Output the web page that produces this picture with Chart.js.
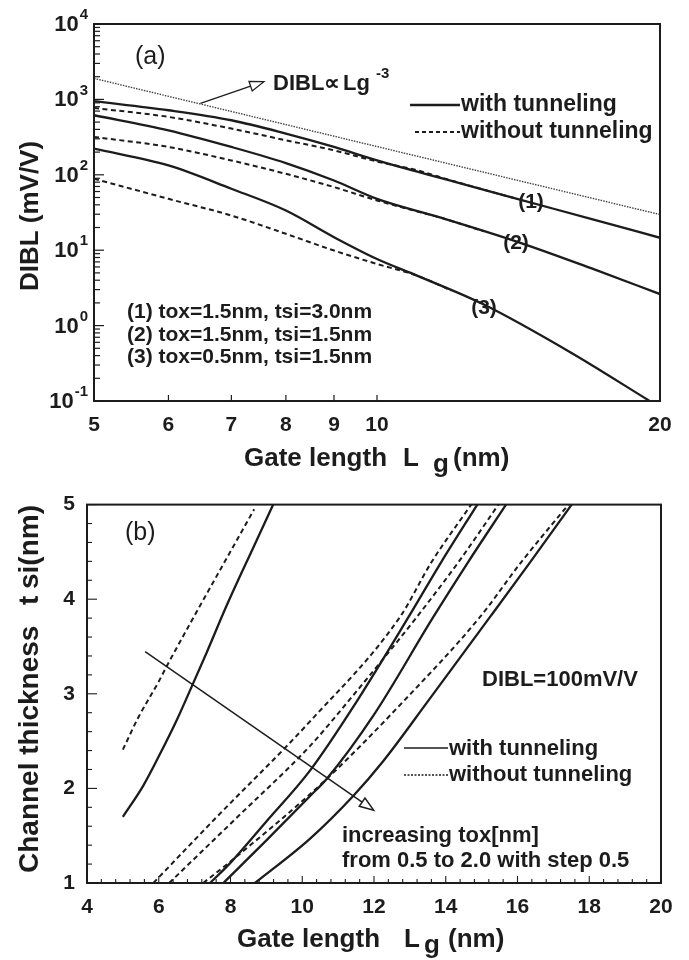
<!DOCTYPE html>
<html lang="en">
<head>
<meta charset="UTF-8">
<title>DIBL and channel thickness vs gate length</title>
<script src="https://cdn.jsdelivr.net/npm/chart.js"></script>
<style>
  * { margin: 0; padding: 0; box-sizing: border-box; }
  body { width: 689px; height: 960px; background: #fff; overflow: hidden; }
  .panel { position: absolute; left: 0; width: 689px; height: 480px; }
  #panelA { top: 0; }
  #panelB { top: 480px; }
</style>
</head>
<body>
<div class="panel" id="panelA"><canvas id="chartA" width="689" height="480"></canvas></div>
<div class="panel" id="panelB"><canvas id="chartB" width="689" height="480"></canvas></div>
<script>
// ---------- panel (a): DIBL vs gate length ----------
const lgTicksA = [5, 6, 7, 8, 9, 10, 20];
const diblDecades = [0.1, 1, 10, 100, 1000, 10000];

// DIBL ~ Lg^-3 guide line
const lgRef = [5, 10, 20];
const diblRef = [1900, 237, 29.7];

// (1) tox=1.5nm, tsi=3.0nm
const lg1With = [5, 6, 7, 8, 9, 10, 12, 14, 17, 20];
const dibl1With = [950, 718, 529, 352, 234, 155, 83, 49, 25.5, 14.6];
const lg1Without = [5, 6, 7, 8, 9, 10, 11, 12, 14];
const dibl1Without = [770, 586, 410, 287, 211, 150, 116, 84, 49];

// (2) tox=1.5nm, tsi=1.5nm
const lg2With = [5, 6, 7, 8, 9, 10, 11.64, 14.13, 17, 20];
const dibl2With = [617, 389, 234, 143, 84, 48, 27.4, 12.8, 5.6, 2.62];
const lg2Without = [5, 6, 7, 8, 9, 10, 11, 11.64, 13];
const dibl2Without = [318, 234, 155, 103, 68.7, 45.7, 33, 27.4, 17.8];

// (3) tox=0.5nm, tsi=1.5nm
const lg3With = [5, 6, 7, 8, 9, 10, 11.03, 12.96, 16.07, 19.5];
const dibl3With = [222, 133, 65.3, 33.6, 14.9, 7.65, 4.6, 1.93, 0.44, 0.1];
const lg3Without = [5, 6, 7, 8, 9, 10, 11.03, 12];
const dibl3Without = [88.7, 48, 28.8, 16.5, 9.9, 6.56, 4.6, 2.92];

// ---------- panel (b): tsi vs gate length at DIBL = 100 mV/V ----------
const lgTicksB = [4, 6, 8, 10, 12, 14, 16, 18, 20];
const tsiTicksB = [1, 2, 3, 4, 5];

const lg05Without = [5, 5.43, 6.0, 6.22, 6.87, 7.8, 8.66];
const tsi05Without = [2.41, 2.75, 3.13, 3.29, 3.74, 4.37, 4.95];
const lg05With = [5, 5.57, 6.03, 6.5, 6.9, 7.34, 7.89, 8.64, 9.19];
const tsi05With = [1.70, 2.03, 2.36, 2.72, 3.06, 3.44, 3.93, 4.55, 5.0];

const lg10Without = [5.85, 7.52, 10.22, 12.72, 13.6, 14.71];
const tsi10Without = [1, 1.66, 2.71, 3.81, 4.39, 5];
const lg10With = [7.43, 7.99, 9.0, 10.22, 11.52, 12.96, 13.87, 14.88];
const tsi10With = [1, 1.21, 1.65, 2.19, 2.92, 3.81, 4.39, 5];

const lg15Without = [6.29, 8.2, 10.22, 11.28, 13.19, 14.35, 15.47];
const tsi15Without = [1, 1.7, 2.45, 2.92, 3.81, 4.39, 5];
const lg15With = [7.80, 9.0, 10.22, 10.68, 12.0, 13.65, 14.62, 15.68];
const tsi15With = [1, 1.45, 1.92, 2.10, 2.78, 3.81, 4.39, 5];

const lg20Without = [7.24, 8.17, 10.68, 12.82, 14.95, 16.1, 17.42];
const tsi20Without = [1, 1.28, 2.10, 2.92, 3.81, 4.39, 5];
const lg20With = [8.68, 10.22, 11.42, 12.26, 13.5, 15.23, 16.35, 17.51];
const tsi20With = [1, 1.47, 1.92, 2.29, 2.92, 3.81, 4.39, 5];

const FONT = "'Liberation Sans', Arial, sans-serif";
const INK = '#1c1c1c';

function pts(xs, ys) {
  return xs.map((x, i) => ({ x: x, y: ys[i] }));
}

function curve(xs, ys, style) {
  const ds = {
    data: pts(xs, ys),
    borderColor: INK,
    borderWidth: 2.3,
    borderDash: [],
    pointRadius: 0,
    cubicInterpolationMode: 'monotone',
    fill: false
  };
  if (style === 'dash') { ds.borderWidth = 2; ds.borderDash = [5, 3.5]; }
  if (style === 'dot') { ds.borderWidth = 1.4; ds.borderColor = '#444'; ds.borderDash = [1.5, 1.2]; }
  return ds;
}

function font(size, bold) {
  return (bold ? 'bold ' : '') + size + 'px ' + FONT;
}

function text(ctx, s, x, y, f, align) {
  ctx.font = f;
  ctx.textAlign = align || 'left';
  ctx.textBaseline = 'middle';
  ctx.fillStyle = INK;
  ctx.fillText(s, x, y);
  return ctx.measureText(s).width;
}

function arrow(ctx, x1, y1, x2, y2) {
  const ang = Math.atan2(y2 - y1, x2 - x1);
  const head = 14, half = 5;
  const bx = x2 - head * Math.cos(ang), by = y2 - head * Math.sin(ang);
  ctx.beginPath();
  ctx.moveTo(x1, y1);
  ctx.lineTo(bx, by);
  ctx.stroke();
  const px = Math.sin(ang) * half, py = -Math.cos(ang) * half;
  ctx.beginPath();
  ctx.moveTo(x2, y2);
  ctx.lineTo(bx + px, by + py);
  ctx.lineTo(bx - px, by - py);
  ctx.closePath();
  ctx.fillStyle = '#fff';
  ctx.fill();
  ctx.stroke();
}

function vline(ctx, x, y1, y2) {
  ctx.beginPath(); ctx.moveTo(x, y1); ctx.lineTo(x, y2); ctx.stroke();
}
function hline(ctx, x1, x2, y) {
  ctx.beginPath(); ctx.moveTo(x1, y); ctx.lineTo(x2, y); ctx.stroke();
}

// Gate length axis title with the lowered "g"; offs = offsets of L, g, (nm)
function gateTitle(ctx, x, y, offs) {
  text(ctx, 'Gate length', x, y, font(26, true));
  text(ctx, 'L', x + offs[0], y, font(26, true));
  text(ctx, 'g', x + offs[1], y + 6, font(26, true));
  text(ctx, '(nm)', x + offs[2], y, font(26, true));
}

const decorA = {
  id: 'decorA',
  afterDatasetsDraw(chart) {
    const { ctx, chartArea: a, scales: { x, y } } = chart;
    ctx.save();
    ctx.strokeStyle = INK;
    ctx.lineWidth = 2;
    ctx.strokeRect(a.left, a.top, a.right - a.left, a.bottom - a.top);

    // inward ticks
    ctx.lineWidth = 1.2;
    diblDecades.forEach((d, i) => {
      hline(ctx, a.left, a.left + 10, y.getPixelForValue(d));
      if (i < diblDecades.length - 1) {
        for (let k = 2; k <= 9; k++) hline(ctx, a.left, a.left + 6, y.getPixelForValue(k * d));
      }
    });
    lgTicksA.forEach(v => vline(ctx, x.getPixelForValue(v), a.bottom, a.bottom - 6));

    // y tick labels 10^n
    diblDecades.forEach(d => {
      const e = Math.round(Math.log10(d));
      const py = y.getPixelForValue(d);
      ctx.font = font(15, true);
      const ew = ctx.measureText(String(e)).width;
      text(ctx, String(e), a.left - 6, py - 9, font(15, true), 'right');
      text(ctx, '10', a.left - 7 - ew, py + 1, font(22, true), 'right');
    });

    // guide arrow and label
    ctx.lineWidth = 1.3;
    arrow(ctx, x.getPixelForValue(6.49), y.getPixelForValue(888),
          x.getPixelForValue(7.58), y.getPixelForValue(1718));
    text(ctx, 'DIBL\u221D', 273, 84, font(22, true));
    text(ctx, 'Lg', 343, 84, font(22, true));
    text(ctx, '-3', 376, 74, font(15, true));

    text(ctx, '(a)', 135, 57, font(25, false));

    // legend
    ctx.lineWidth = 2.3;
    hline(ctx, 410, 460, 105);
    ctx.setLineDash([4, 3]);
    ctx.lineWidth = 2;
    hline(ctx, 415, 460, 132);
    ctx.setLineDash([]);
    text(ctx, 'with tunneling', 461, 105, font(23, true));
    text(ctx, 'without tunneling', 461, 132, font(23, true));

    // curve labels
    text(ctx, '(1)', 531, 202, font(21, true), 'center');
    text(ctx, '(2)', 516, 243, font(21, true), 'center');
    text(ctx, '(3)', 484, 308, font(21, true), 'center');

    text(ctx, '(1) tox=1.5nm, tsi=3.0nm', 127, 312, font(21, true));
    text(ctx, '(2) tox=1.5nm, tsi=1.5nm', 127, 335, font(21, true));
    text(ctx, '(3) tox=0.5nm, tsi=1.5nm', 127, 357, font(21, true));

    // axis titles
    gateTitle(ctx, 244, 459, [159, 189, 209]);
    ctx.save();
    ctx.translate(31, 216);
    ctx.rotate(-Math.PI / 2);
    text(ctx, 'DIBL (mV/V)', 0, 0, font(26, true), 'center');
    ctx.restore();
    ctx.restore();
  }
};

const decorB = {
  id: 'decorB',
  afterDatasetsDraw(chart) {
    const { ctx, chartArea: a, scales: { x, y } } = chart;
    ctx.save();
    ctx.strokeStyle = INK;
    ctx.lineWidth = 2;
    ctx.strokeRect(a.left, a.top, a.right - a.left, a.bottom - a.top);

    // inward ticks: majors on labels, minors every 0.4 (x) and 0.2 (y)
    ctx.lineWidth = 1.1;
    for (let i = 0; i <= 40; i++) {
      const v = 4 + i * 0.4;
      vline(ctx, x.getPixelForValue(v), a.bottom, a.bottom - (i % 5 === 0 ? 7 : 4));
    }
    for (let i = 0; i <= 20; i++) {
      const v = 1 + i * 0.2;
      hline(ctx, a.left, a.left + (i % 5 === 0 ? 10 : 5), y.getPixelForValue(v));
    }

    // tox arrow
    ctx.lineWidth = 1.5;
    arrow(ctx, x.getPixelForValue(5.62), y.getPixelForValue(3.446),
          x.getPixelForValue(11.99), y.getPixelForValue(1.77));

    text(ctx, '(b)', 125, 53, font(25, false));
    text(ctx, 'DIBL=100mV/V', 482, 200, font(22, true));

    ctx.lineWidth = 1.6;
    hline(ctx, 404, 448, 268);
    ctx.setLineDash([2, 1.5]);
    hline(ctx, 404, 448, 295);
    ctx.setLineDash([]);
    text(ctx, 'with tunneling', 449, 269, font(22, true));
    text(ctx, 'without tunneling', 449, 295, font(22, true));

    text(ctx, 'increasing tox[nm]', 342, 356, font(22, true));
    text(ctx, 'from 0.5 to 2.0 with step 0.5', 342, 381, font(22, true));

    gateTitle(ctx, 237, 460, [167, 187, 211]);
    ctx.save();
    ctx.translate(30, 393);
    ctx.rotate(-Math.PI / 2);
    text(ctx, 'Channel thickness', 0, 0, font(28, true));
    text(ctx, 't', 268, 0, font(28, true));
    text(ctx, 'si(nm)', 284, 0, font(28, true));
    ctx.restore();
    ctx.restore();
  }
};

const tickFont = { family: FONT, size: 21, weight: 'bold' };
const baseOpts = {
  responsive: false,
  animation: false,
  devicePixelRatio: 1,
  events: [],
  plugins: { legend: { display: false }, tooltip: { enabled: false }, title: { display: false } }
};

new Chart(document.getElementById('chartA'), {
  type: 'line',
  data: {
    datasets: [
      curve(lgRef, diblRef, 'dot'),
      curve(lg1Without, dibl1Without, 'dash'),
      curve(lg2Without, dibl2Without, 'dash'),
      curve(lg3Without, dibl3Without, 'dash'),
      curve(lg1With, dibl1With, 'solid'),
      curve(lg2With, dibl2With, 'solid'),
      curve(lg3With, dibl3With, 'solid')
    ]
  },
  options: {
    ...baseOpts,
    layout: { padding: { top: 24, right: 29, left: 0, bottom: 0 } },
    scales: {
      x: {
        type: 'logarithmic', min: 5, max: 20,
        afterBuildTicks: s => { s.ticks = lgTicksA.map(v => ({ value: v })); },
        afterFit: s => { s.height = 79; },
        grid: { display: false, drawTicks: false },
        border: { display: false },
        ticks: { color: INK, font: tickFont, padding: 12, autoSkip: false, maxRotation: 0,
                 callback: v => String(v) }
      },
      y: {
        type: 'logarithmic', min: 0.1, max: 10000,
        afterBuildTicks: s => { s.ticks = diblDecades.map(v => ({ value: v })); },
        afterFit: s => { s.width = 94; },
        grid: { display: false, drawTicks: false },
        border: { display: false },
        ticks: { display: false }
      }
    }
  },
  plugins: [decorA]
});

new Chart(document.getElementById('chartB'), {
  type: 'line',
  data: {
    datasets: [
      curve(lg05Without, tsi05Without, 'dash'),
      curve(lg10Without, tsi10Without, 'dash'),
      curve(lg15Without, tsi15Without, 'dash'),
      curve(lg20Without, tsi20Without, 'dash'),
      curve(lg05With, tsi05With, 'solid'),
      curve(lg10With, tsi10With, 'solid'),
      curve(lg15With, tsi15With, 'solid'),
      curve(lg20With, tsi20With, 'solid')
    ]
  },
  options: {
    ...baseOpts,
    layout: { padding: { top: 22, right: 28, left: 0, bottom: 0 } },
    scales: {
      x: {
        type: 'linear', min: 4, max: 20,
        afterBuildTicks: s => { s.ticks = lgTicksB.map(v => ({ value: v })); },
        afterFit: s => { s.height = 77; },
        grid: { display: false, drawTicks: false },
        border: { display: false },
        ticks: { color: INK, font: tickFont, padding: 12, autoSkip: false, maxRotation: 0 }
      },
      y: {
        type: 'linear', min: 1, max: 5,
        afterBuildTicks: s => { s.ticks = tsiTicksB.map(v => ({ value: v })); },
        afterFit: s => { s.width = 87; },
        grid: { display: false, drawTicks: false },
        border: { display: false },
        ticks: { color: INK, font: tickFont, padding: 12 }
      }
    }
  },
  plugins: [decorB]
});
</script>
</body>
</html>
